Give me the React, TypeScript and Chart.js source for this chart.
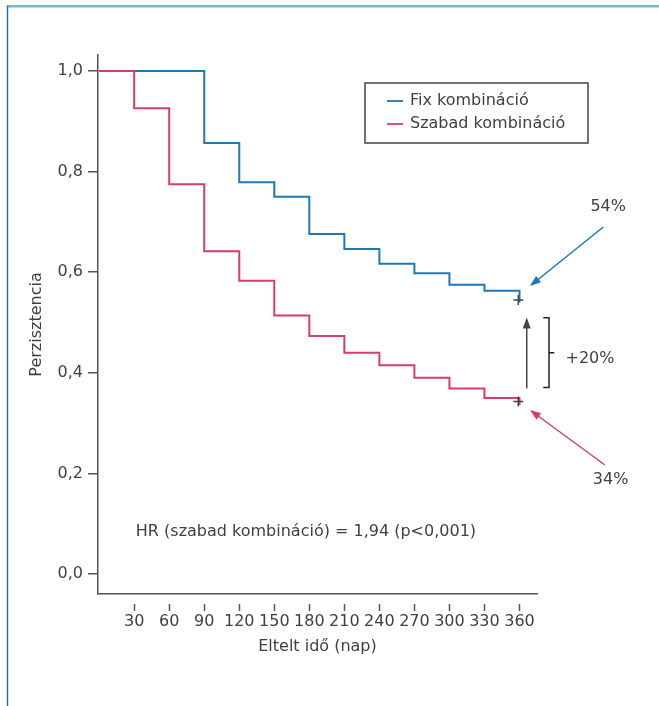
import React, { useEffect, useRef } from "react";
import { Chart, registerables } from "chart.js";

Chart.register(...registerables);

// ---- data ----
const seriesLabels = ["Fix kombináció", "Szabad kombináció"];
const fixDays = [0, 90, 120, 150, 180, 210, 240, 270, 300, 330, 360];
const fixValues = [1.0, 0.857, 0.779, 0.75, 0.676, 0.646, 0.617, 0.598, 0.575, 0.563, 0.54];
const freeDays = [0, 30, 60, 90, 120, 150, 180, 210, 240, 270, 300, 330, 360];
const freeValues = [1.0, 0.926, 0.775, 0.642, 0.583, 0.514, 0.473, 0.44, 0.415, 0.39, 0.369, 0.35, 0.336];
const censorDays = [359, 359];
const censorValues = [0.545, 0.343];
const xTickValues = [30, 60, 90, 120, 150, 180, 210, 240, 270, 300, 330, 360];
const yTickValues = [0, 0.2, 0.4, 0.6, 0.8, 1.0];
const endLabels = ["54%", "34%"];
const diffLabel = "+20%";
const hrText = "HR (szabad kombináció) = 1,94 (p<0,001)";
const xTitle = "Eltelt idő (nap)";
const yTitle = "Perzisztencia";

// annotation anchors in data units [day, value]
const ann = {
  label54: [436, 0.73],
  arrow54: [[431.8, 0.69], [369, 0.5726]],
  label34: [438, 0.187],
  arrow34: [[433.2, 0.2167], [369, 0.326]],
  diffArrow: [[366.2, 0.369], [366.2, 0.51]],
  bracket: { x: 385.3, left: 380.4, right: 389.8, top: 0.5095, bottom: 0.371, mid: 0.44 },
  diffText: [420.4, 0.427],
  hr: [177.1, 0.0835],
};

const BLUE = "#1f77b4";
const PINK = "#d63d68";
const DARK = "#404040";
const FONT = "'DejaVu Sans', sans-serif";

function arrow(ctx: CanvasRenderingContext2D, x1: number, y1: number, x2: number, y2: number, color: string) {
  const ang = Math.atan2(y2 - y1, x2 - x1);
  const hl = 11, hw = 4;
  ctx.save();
  ctx.strokeStyle = color;
  ctx.fillStyle = color;
  ctx.lineWidth = 1.5;
  ctx.beginPath();
  ctx.moveTo(x1, y1);
  ctx.lineTo(x2 - Math.cos(ang) * hl * 0.8, y2 - Math.sin(ang) * hl * 0.8);
  ctx.stroke();
  ctx.beginPath();
  ctx.moveTo(x2, y2);
  ctx.lineTo(x2 - Math.cos(ang) * hl - Math.sin(ang) * hw, y2 - Math.sin(ang) * hl + Math.cos(ang) * hw);
  ctx.lineTo(x2 - Math.cos(ang) * hl + Math.sin(ang) * hw, y2 - Math.sin(ang) * hl - Math.cos(ang) * hw);
  ctx.closePath();
  ctx.fill();
  ctx.restore();
}

const decorPlugin = {
  id: "decor",
  beforeDraw(chart: any) {
    const ctx = chart.ctx as CanvasRenderingContext2D;
    ctx.save();
    ctx.fillStyle = "#ffffff";
    ctx.fillRect(0, 0, chart.width, chart.height);
    ctx.strokeStyle = "#79b6d5";
    ctx.lineWidth = 2.5;
    ctx.beginPath();
    ctx.moveTo(7, 6.25);
    ctx.lineTo(chart.width, 6.25);
    ctx.stroke();
    ctx.strokeStyle = "#1f72ad";
    ctx.lineWidth = 1.5;
    ctx.beginPath();
    ctx.moveTo(7.5, 5.5);
    ctx.lineTo(7.5, chart.height);
    ctx.stroke();
    ctx.restore();
  },
  afterDraw(chart: any) {
    const ctx = chart.ctx as CanvasRenderingContext2D;
    const xs = chart.scales.x;
    const ys = chart.scales.y;
    const px = (d: number) => xs.getPixelForValue(d);
    const py = (v: number) => ys.getPixelForValue(v);
    const area = chart.chartArea;
    ctx.save();
    // offset x tick marks
    ctx.strokeStyle = "#555";
    ctx.lineWidth = 1.5;
    xTickValues.forEach((d) => {
      const x = Math.round(px(d)) + 0.5;
      ctx.beginPath();
      ctx.moveTo(x, area.bottom + 10);
      ctx.lineTo(x, area.bottom + 17);
      ctx.stroke();
    });

    // legend
    const lx = area.left + 267, ly = area.top + 28, lw = 223, lh = 60;
    ctx.strokeStyle = "#444";
    ctx.lineWidth = 1.5;
    ctx.strokeRect(lx, ly, lw, lh);
    ctx.font = `16px ${FONT}`;
    ctx.textBaseline = "middle";
    ctx.textAlign = "left";
    const colors = [BLUE, PINK];
    seriesLabels.forEach((lab, i) => {
      const yy = ly + 18 + i * 23;
      ctx.strokeStyle = colors[i];
      ctx.lineWidth = 1.8;
      ctx.beginPath();
      ctx.moveTo(lx + 22, yy);
      ctx.lineTo(lx + 38, yy);
      ctx.stroke();
      ctx.fillStyle = DARK;
      ctx.fillText(lab, lx + 45, yy);
    });

    // annotations
    ctx.fillStyle = DARK;
    ctx.textAlign = "center";
    ctx.fillText(endLabels[0], px(ann.label54[0]), py(ann.label54[1]));
    ctx.fillText(endLabels[1], px(ann.label34[0]), py(ann.label34[1]));
    ctx.fillText(diffLabel, px(ann.diffText[0]), py(ann.diffText[1]));
    ctx.fillText(hrText, px(ann.hr[0]), py(ann.hr[1]));

    arrow(ctx, px(ann.arrow54[0][0]), py(ann.arrow54[0][1]), px(ann.arrow54[1][0]), py(ann.arrow54[1][1]), BLUE);
    arrow(ctx, px(ann.arrow34[0][0]), py(ann.arrow34[0][1]), px(ann.arrow34[1][0]), py(ann.arrow34[1][1]), PINK);
    arrow(ctx, px(ann.diffArrow[0][0]), py(ann.diffArrow[0][1]), px(ann.diffArrow[1][0]), py(ann.diffArrow[1][1]), "#444");

    const b = ann.bracket;
    ctx.strokeStyle = "#222";
    ctx.lineWidth = 1.5;
    ctx.beginPath();
    ctx.moveTo(px(b.left), py(b.top));
    ctx.lineTo(px(b.x), py(b.top));
    ctx.lineTo(px(b.x), py(b.bottom));
    ctx.lineTo(px(b.left), py(b.bottom));
    ctx.moveTo(px(b.x), py(b.mid));
    ctx.lineTo(px(b.right), py(b.mid));
    ctx.stroke();
    ctx.restore();
  },
};

export default function App() {
  const ref = useRef<HTMLCanvasElement | null>(null);
  useEffect(() => {
    if (!ref.current) return;
    const chart = new Chart(ref.current, {
      type: "line",
      data: {
        datasets: [
          {
            label: seriesLabels[0],
            data: fixDays.map((d, i) => ({ x: d, y: fixValues[i] })),
            borderColor: BLUE,
            borderWidth: 2,
            pointRadius: 0,
            stepped: true,
            fill: false,
            order: 2,
          },
          {
            label: seriesLabels[1],
            data: freeDays.map((d, i) => ({ x: d, y: freeValues[i] })),
            borderColor: PINK,
            borderWidth: 2,
            pointRadius: 0,
            stepped: true,
            fill: false,
            order: 1,
          },
          {
            label: "censor",
            data: censorDays.map((d, i) => ({ x: d, y: censorValues[i] })),
            showLine: false,
            pointStyle: "cross",
            pointRadius: 5,
            pointBorderColor: "#444",
            pointBorderWidth: 1.5,
            order: 0,
          },
        ],
      },
      options: {
        animation: false,
        responsive: false,
        maintainAspectRatio: false,
        layout: { padding: { left: 0, top: 55, right: 122, bottom: 0 } },
        plugins: { legend: { display: false }, tooltip: { enabled: false } },
        scales: {
          x: {
            type: "linear",
            min: -1,
            max: 375,
            afterBuildTicks: (s: any) => {
              s.ticks = xTickValues.map((v) => ({ value: v }));
            },
            afterFit: (s: any) => {
              s.height = 112;
            },
            grid: { display: true, drawOnChartArea: false, drawTicks: false },
            border: { display: true, color: "#555", width: 1.5 },
            ticks: {
              autoSkip: false,
              maxRotation: 0,
              padding: 18,
              color: DARK,
              font: { family: FONT, size: 16 },
              callback: (v: any) => String(v),
            },
            title: {
              display: true,
              text: xTitle,
              color: DARK,
              font: { family: FONT, size: 16 },
              padding: { top: 0, bottom: 50 },
            },
          },
          y: {
            type: "linear",
            min: -0.0398,
            max: 1.032,
            afterBuildTicks: (s: any) => {
              s.ticks = yTickValues.map((v) => ({ value: v }));
            },
            afterFit: (s: any) => {
              s.width = 98;
            },
            grid: { display: true, drawOnChartArea: false, drawTicks: true, tickLength: 10, color: "#555", lineWidth: 1.5 },
            border: { display: true, color: "#555", width: 1.5 },
            ticks: {
              padding: 5,
              color: DARK,
              font: { family: FONT, size: 16 },
              callback: (v: any) => Number(v).toFixed(1).replace(".", ","),
            },
            title: {
              display: true,
              text: yTitle,
              color: DARK,
              font: { family: FONT, size: 16 },
              padding: { top: 27, bottom: 0 },
            },
          },
        },
      },
      plugins: [decorPlugin],
    });
    return () => chart.destroy();
  }, []);
  return (
    <div style={{ position: "absolute", left: 0, top: 0, width: 659, height: 706 }}>
      <canvas ref={ref} width={659} height={706} style={{ display: "block" }} />
    </div>
  );
}
